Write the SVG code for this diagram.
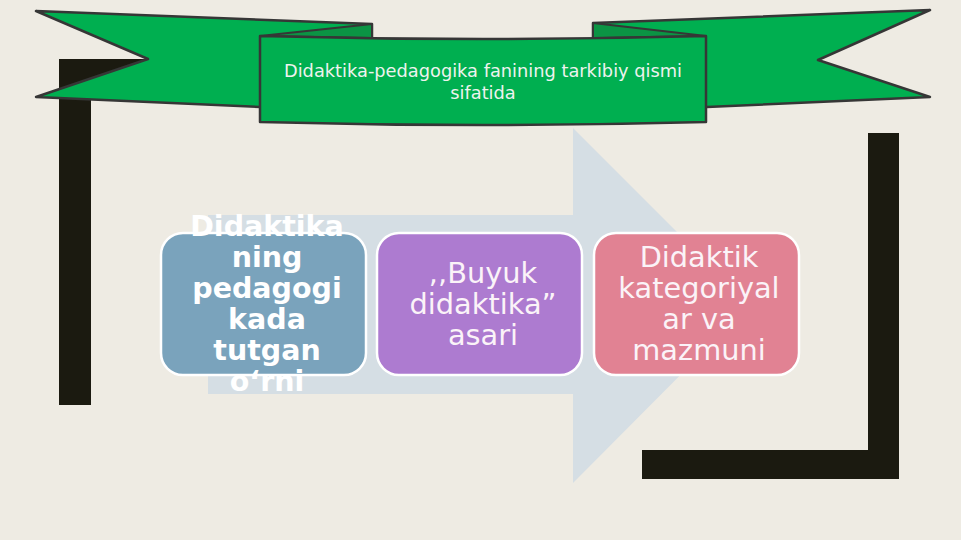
<svg xmlns="http://www.w3.org/2000/svg" width="961" height="540" viewBox="0 0 961 540">
<style>
.bk{fill:#1B1A10}
.rib{fill:#00AF50;stroke:#363636;stroke-width:2.5;stroke-linejoin:round}
.fold{fill:#0B9444;stroke:#363636;stroke-width:2;stroke-linejoin:round}
.box{stroke:#FFFFFF;stroke-width:2.5}
.t{font-family:"DejaVu Sans","Noto Sans",sans-serif;fill:#FFFFFF;text-anchor:middle}
.tb{font-size:28.5px;font-weight:bold}
.tr{font-size:28.8px;fill:#FBF3F8}
.th{font-size:17.8px;fill:#EEF3EE}
</style>
<rect width="961" height="540" fill="#EEEBE3"/>
<g id="brackets">
<path class="bk" d="M59,59 H300 V91 H91 V405 H59 Z"/>
<path class="bk" d="M899,479 H642 V450 H868 V133 H899 Z"/>
</g>
<g id="arrow">
<path d="M208,215 H573 V128 L750,305 L573,483 V394 H208 Z" fill="#D5DEE4"/>
</g>
<g id="banner">
<polygon class="rib" points="36,11 372,24 372,100 260,107 36,97 148,59"/>
<polygon class="rib" points="930,10 593,23 593,100 707,107 930,97 818,60"/>
<polygon class="fold" points="260,36 372,24 372,38"/>
<polygon class="fold" points="706,36 593,23 593,38"/>
<path class="rib" d="M260,36 Q483,42 706,36 L706,122 Q483,128 260,122 Z"/>
<text class="t th" x="483" y="77">Didaktika-pedagogika fanining tarkibiy qismi</text>
<text class="t th" x="483" y="99">sifatida</text>
</g>
<g id="node1">
<rect class="box" x="161" y="233" width="205" height="142" rx="22" fill="#7AA3BC"/>
<text class="t tb" x="267"><tspan x="267" y="236">Didaktika</tspan><tspan x="267" y="267">ning</tspan><tspan x="267" y="298">pedagogi</tspan><tspan x="267" y="329">kada</tspan><tspan x="267" y="360">tutgan</tspan><tspan x="267" y="391">o‘rni</tspan></text>
</g>
<g id="node2">
<rect class="box" x="377" y="233" width="205" height="142" rx="22" fill="#AD7BD0"/>
<text class="t tr" x="483"><tspan x="483" y="283">,,Buyuk</tspan><tspan x="483" y="314">didaktika”</tspan><tspan x="483" y="345">asari</tspan></text>
</g>
<g id="node3">
<rect class="box" x="594" y="233" width="205" height="142" rx="22" fill="#E18293"/>
<text class="t tr" x="699"><tspan x="699" y="267">Didaktik</tspan><tspan x="699" y="298">kategoriyal</tspan><tspan x="699" y="329">ar va</tspan><tspan x="699" y="360">mazmuni</tspan></text>
</g>
</svg>
